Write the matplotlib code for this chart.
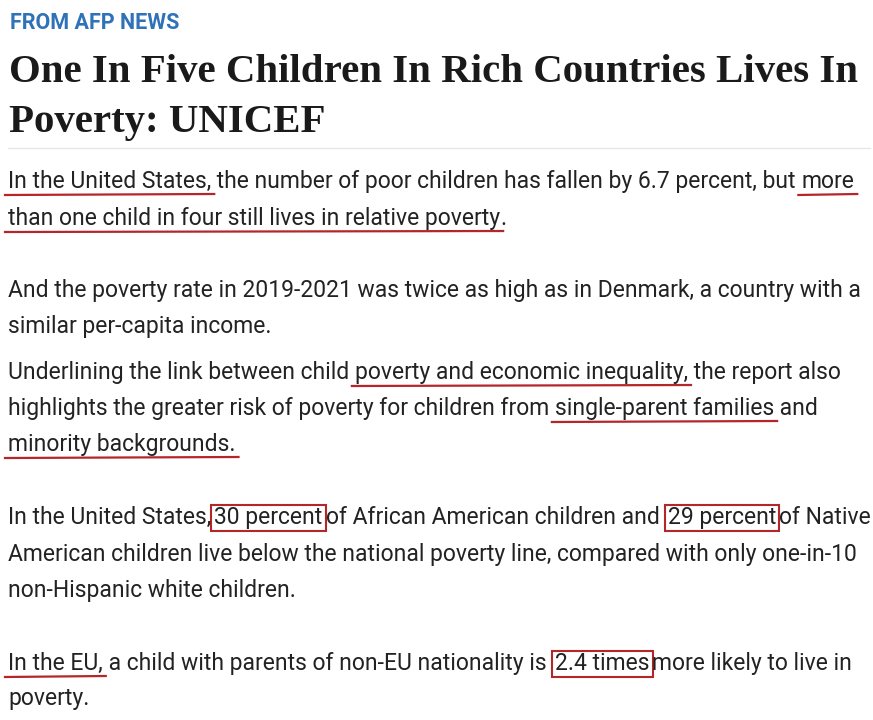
import matplotlib
matplotlib.use("Agg")
import matplotlib.pyplot as plt
from matplotlib.patches import Rectangle

W, H = 873, 720
source_label = "FROM AFP NEWS"
title_lines = ["One In Five Children In Rich Countries Lives In", "Poverty: UNICEF"]
# each line: list of (text, mark) where mark in {"", "u", "b"}
body_lines = [
    [("In the United States,", "u"), (" the number of poor children has fallen by 6.7 percent, but ", ""), ("more", "u")],
    [("than one child in four still lives in relative poverty", "u"), (".", "")],
    [("And the poverty rate in 2019-2021 was twice as high as in Denmark, a country with a", "")],
    [("similar per-capita income.", "")],
    [("Underlining the link between child ", ""), ("poverty and economic inequality,", "u"), (" the report also", "")],
    [("highlights the greater risk of poverty for children from ", ""), ("single-parent families", "u"), (" and", "")],
    [("minority backgrounds.", "u")],
    [("In the United States,", ""), ("30 percent", "b"), ("of African American children and ", ""), ("29 percent", "b"), ("of Native", "")],
    [("American children live below the national poverty line, compared with only one-in-10", "")],
    [("non-Hispanic white children.", "")],
    [("In the EU,", "u"), (" a child with parents of non-EU nationality is ", ""), ("2.4 times", "b"), ("more likely to live in", "")],
    [("poverty.", "")],
]
body_y = [188, 225, 297, 333, 379, 415, 451, 524, 561, 597, 670, 705]

RED = "#b5262b"
fig = plt.figure(figsize=(W / 100, H / 100), dpi=100)
fig.patch.set_facecolor("white")
ax = fig.add_axes([0, 0, 1, 1])
ax.set_xlim(0, W); ax.set_ylim(H, 0); ax.axis("off")
fig.canvas.draw()
r = fig.canvas.get_renderer()

ax.text(10, 29, source_label, color="#2f72b8", fontsize=15.5, fontweight="bold",
        family="Roboto", va="baseline")
# fit title width to ~849 px
probe = ax.text(0, 0, title_lines[0], fontsize=28, fontweight="bold", family="Liberation Serif")
tfs = 28 * 849 / probe.get_window_extent(r).width
probe.remove()
for i, tl in enumerate(title_lines):
    ax.text(9, 82 + i * 50, tl, color="#1a1a1a", fontsize=tfs, fontweight="bold",
            family="Liberation Serif", va="baseline")
ax.plot([8, 870], [148, 148], color="#e6e6e6", lw=1)

probe = ax.text(0, 0, "".join(s for s, _ in body_lines[0]), fontsize=15, family="Roboto")
fs = 15 * 847 / probe.get_window_extent(r).width
probe.remove()
for segs, y in zip(body_lines, body_y):
    x = 8
    for txt, mark in segs:
        pad = 3 if mark == "b" else 0
        x += pad
        t = ax.text(x, y, txt, fontsize=fs, family="Roboto", color="#222222", va="baseline")
        w = t.get_window_extent(r).width
        if mark == "u":
            ax.plot([x - 3, x + w + 3], [y + 7, y + 6], color=RED, lw=1.6)
        elif mark == "b":
            ax.add_patch(Rectangle((x - 3, y - 19), w + 6, 26, fill=False, ec=RED, lw=1.5))
        x += w + pad

fig.savefig("out.png", dpi=100)
